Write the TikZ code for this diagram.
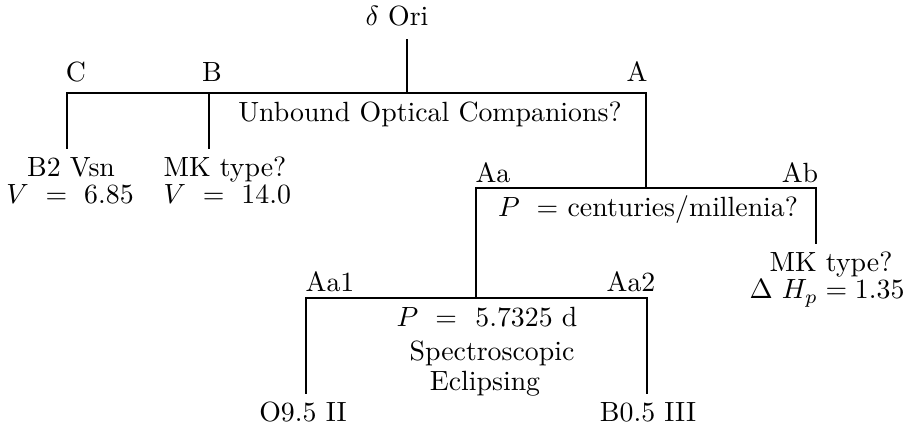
\documentclass[tikz,border=0pt]{standalone}
\begin{document}
\begin{tikzpicture}[x=1pt,y=-1pt,
  lbl/.style={inner sep=0pt,anchor=base,font=\fontsize{10}{12}\selectfont,scale=2.78},
  link/.style={line width=1.2pt,line cap=rect}]
\useasboundingbox (0,0) rectangle (910,427);
% joints
\coordinate (jO) at (407,93);
\coordinate (jC) at (67,93);
\coordinate (jB) at (209,93);
\coordinate (jA) at (646,93);
\coordinate (jCb) at (67,148);
\coordinate (jBb) at (209,148);
\coordinate (jAa) at (476,188);
\coordinate (jAm) at (646,188);
\coordinate (jAb) at (816,188);
\coordinate (jAbb) at (816,243);
\coordinate (jA1) at (306,298);
\coordinate (jAam) at (476,298);
\coordinate (jA2) at (647,298);
\coordinate (jA1b) at (306,393);
\coordinate (jA2b) at (647,393);
% labels
\node[lbl] (ori) at (397,26) {$\delta$ Ori};
\coordinate (oriTop) at (407,40);
\node[lbl] (C) at (76,82) {C};
\node[lbl] (B) at (212,82) {B};
\node[lbl] (A) at (637,82) {A};
\node[lbl] (unb) at (430,122) {Unbound Optical Companions?};
\node[lbl] (Cs1) at (71,177) {B2 Vsn};
\node[lbl] (Cs2) at (70,204) {$V\ =\ 6.85$};
\node[lbl,anchor=base west] (Bs1) at (163,177) {MK type?};
\node[lbl,anchor=base west] (Bs2) at (163,204) {$V\ =\ 14.0$};
\node[lbl] (Aa) at (493,183) {Aa};
\node[lbl] (Ab) at (800,183) {Ab};
\node[lbl] (Pcm) at (648,217) {$P\ =$ centuries/millenia?};
\node[lbl] (Abs1) at (831,272) {MK type?};
\node[lbl] (Abs2) at (827,299) {$\Delta\ H_p = 1.35$};
\node[lbl] (Aa1) at (330,292) {Aa1};
\node[lbl] (Aa2) at (631,292) {Aa2};
\node[lbl] (P1) at (487,327) {$P\ =\ $ 5.7325 d};
\node[lbl] (P2) at (492,360) {Spectroscopic};
\node[lbl] (P3) at (485,390) {Eclipsing};
\node[lbl] (s1) at (303,421) {O9.5 II};
\node[lbl] (s2) at (648,421) {B0.5 III};
% connectors
\draw[link] (oriTop) -- (jO);
\draw[link] (jCb) -- (jC) -- (jA) -- (jAm);
\draw[link] (jB) -- (jBb);
\draw[link] (jAa) -- (jAb) -- (jAbb);
\draw[link] (jAa) -- (jAam);
\draw[link] (jA1b) -- (jA1) -- (jA2) -- (jA2b);
\end{tikzpicture}
\end{document}
